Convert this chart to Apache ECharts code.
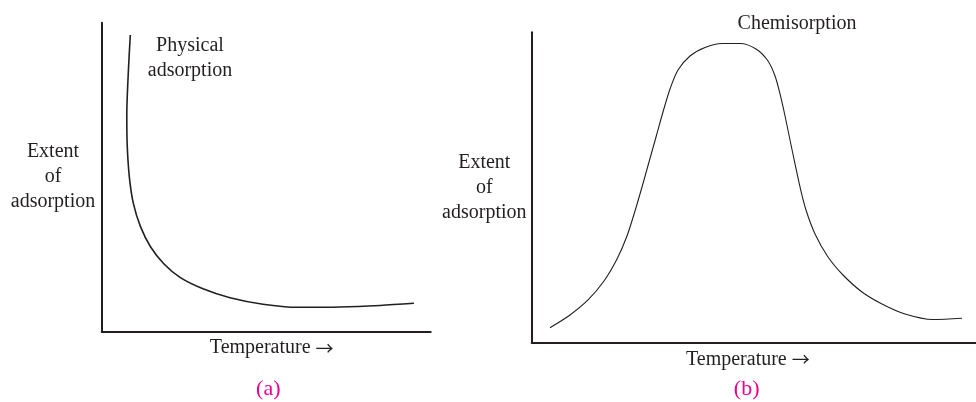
<!DOCTYPE html>
<html>
<head>
<meta charset="utf-8">
<script src="https://cdn.jsdelivr.net/npm/echarts@6/dist/echarts.min.js"></script>
<style>
  html, body { margin: 0; padding: 0; background: #fff; }
  #chart { width: 976px; height: 402px; }
</style>
</head>
<body>
<div id="chart"></div>
<script>
// (a) physical adsorption, temperature vs extent (0-100 scale)
var physX = [8.69, 8.05, 7.63, 7.75, 8.39, 9.60, 11.79, 14.83, 18.94, 23.80, 30.79, 39.0, 49.0, 59.4, 72.4, 84.6, 94.9];
var physY = [96.0, 83.1, 70.1, 60.4, 50.2, 41.6, 34.0, 27.5, 21.9, 17.6, 13.9, 11.0, 8.9, 7.9, 8.0, 8.5, 9.2];

// (b) chemisorption
var chemX = [4.12, 8.62, 12.67, 16.27, 19.20, 21.45, 23.25, 24.83, 26.40, 27.98, 29.55, 31.13, 32.93, 35.63, 39.01, 42.84, 46.89,
  50.49, 53.19, 54.77, 55.89, 57.02, 58.14, 59.27, 60.39, 61.74, 63.77, 66.69, 70.07, 74.34, 78.84, 84.02, 90.32, 96.85];
var chemY = [4.71, 8.81, 13.65, 19.77, 26.87, 34.29, 42.35, 50.10, 58.16, 66.23, 74.29, 81.71, 87.84, 92.35, 95.10, 96.39, 96.39,
  94.61, 90.74, 85.90, 80.10, 73.00, 65.26, 57.52, 50.10, 42.68, 34.94, 27.52, 21.71, 16.23, 12.35, 9.13, 7.35, 7.74];

var axisLabels = ['Temperature {arr|\u2192}', 'Extent\nof\nadsorption'];
var curveLabels = ['Physical\nadsorption', 'Chemisorption'];
var panelLabels = ['(a)', '(b)'];

var ink = '#231f20';
var pink = '#ec008c';
var serif = '"Liberation Serif", "DejaVu Serif", serif';

function pairs(xs, ys) {
  var out = [];
  for (var i = 0; i < xs.length; i++) out.push([xs[i], ys[i]]);
  return out;
}

function xAxisFor(idx, gap, pad) {
  return {
    type: 'value', gridIndex: idx, min: 0, max: 100,
    name: axisLabels[0], nameLocation: 'middle', nameGap: gap,
    nameTextStyle: {
      fontFamily: serif, fontSize: 20, color: ink, padding: pad,
      rich: { arr: { fontFamily: '"Noto Sans CJK SC"', fontSize: 18, color: ink } }
    },
    axisLine: { show: true, onZero: false, lineStyle: { color: ink, width: 2 } },
    axisTick: { show: false }, axisLabel: { show: false }, splitLine: { show: false }
  };
}

function yAxisFor(idx, gap) {
  return {
    type: 'value', gridIndex: idx, min: 0, max: 100,
    name: axisLabels[1], nameLocation: 'middle', nameRotate: 0, nameGap: gap,
    nameTextStyle: { fontFamily: serif, fontSize: 20, color: ink, align: 'center', verticalAlign: 'middle', lineHeight: 25 },
    axisLine: { show: true, onZero: false, lineStyle: { color: ink, width: 2 } },
    axisTick: { show: false }, axisLabel: { show: false }, splitLine: { show: false }
  };
}

var chart = echarts.init(document.getElementById('chart'));

var option = {
  backgroundColor: '#fff',
  animation: false,
  grid: [
    { left: 101.7, top: 22.7, width: 329, height: 309 },
    { left: 531.7, top: 32.3, right: 0, height: 310 }
  ],
  xAxis: [xAxisFor(0, 6, [0, 0, 0, 11]), xAxisFor(1, 7, [0, 12, 0, 0])],
  yAxis: [yAxisFor(0, 48.7), yAxisFor(1, 47.4)],
  series: [
    {
      type: 'line', xAxisIndex: 0, yAxisIndex: 0,
      data: pairs(physX, physY),
      showSymbol: false, smooth: 0.3,
      lineStyle: { color: ink, width: 1.6 }
    },
    {
      type: 'line', xAxisIndex: 1, yAxisIndex: 1,
      data: pairs(chemX, chemY),
      showSymbol: false, smooth: 0.3,
      lineStyle: { color: ink, width: 1.1 }
    }
  ],
  graphic: [
    { type: 'text', x: 190, y: 58.4, style: { text: curveLabels[0], font: '20px ' + serif, fill: ink, align: 'center', verticalAlign: 'middle', lineHeight: 25 } },
    { type: 'text', x: 797, y: 23.3, style: { text: curveLabels[1], font: '20px ' + serif, fill: ink, align: 'center', verticalAlign: 'middle' } },
    { type: 'text', x: 268.3, y: 389, style: { text: panelLabels[0], font: '22px ' + serif, fill: pink, align: 'center', verticalAlign: 'middle' } },
    { type: 'text', x: 746.7, y: 389, style: { text: panelLabels[1], font: '22px ' + serif, fill: pink, align: 'center', verticalAlign: 'middle' } }
  ]
};

chart.setOption(option);
</script>
</body>
</html>
